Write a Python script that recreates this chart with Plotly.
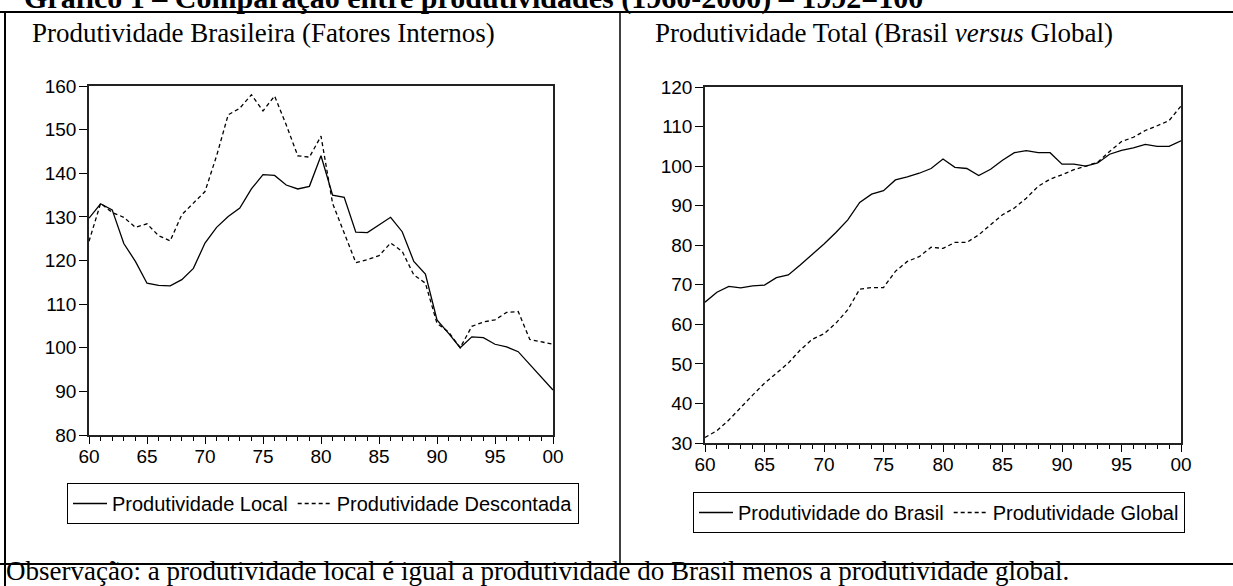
import plotly.graph_objects as go

W, H = 1233, 586

years = list(range(1960, 2001))

# Left panel: Produtividade Brasileira (Fatores Internos)
prod_local = [129.7, 133.0, 131.6, 123.9, 119.8, 114.8, 114.3, 114.2, 115.6, 118.2,
              124.0, 127.6, 130.1, 132.0, 136.4, 139.7, 139.5, 137.3, 136.4, 137.0,
              144.0, 135.0, 134.5, 126.5, 126.4, 128.2, 129.9, 126.6, 119.8, 116.9,
              106.4, 103.3, 100.0, 102.5, 102.3, 100.8, 100.2, 99.1, 96.2, 93.4, 90.3]
prod_descontada = [124.4, 133.1, 131.0, 129.9, 127.6, 128.4, 125.7, 124.5, 130.5, 133.1,
                   135.8, 144.0, 153.4, 154.9, 158.0, 154.3, 157.7, 151.1, 144.0, 143.7,
                   148.5, 133.1, 126.3, 119.5, 120.2, 121.1, 124.0, 122.1, 116.7, 114.8,
                   105.6, 103.6, 100.0, 104.9, 105.9, 106.4, 108.1, 108.3, 101.9, 101.4, 100.8]

# Right panel: Produtividade Total (Brasil versus Global)
prod_brasil = [65.6, 68.1, 69.6, 69.2, 69.7, 69.9, 71.8, 72.5, 75.0, 77.6,
               80.3, 83.2, 86.4, 90.8, 92.9, 93.8, 96.5, 97.3, 98.2, 99.4,
               101.8, 99.7, 99.4, 97.6, 99.2, 101.5, 103.4, 103.9, 103.4, 103.4,
               100.5, 100.5, 100.0, 100.8, 103.0, 104.0, 104.6, 105.5, 105.0, 105.0, 106.4]
prod_global = [31.4, 33.1, 35.8, 39.0, 42.1, 45.1, 47.6, 50.2, 53.5, 56.2,
               57.6, 60.3, 63.7, 68.9, 69.3, 69.3, 73.4, 75.9, 77.1, 79.5,
               79.2, 80.7, 80.7, 82.6, 85.2, 87.7, 89.4, 91.9, 94.9, 96.7,
               97.8, 99.1, 100.0, 101.0, 103.7, 106.2, 107.3, 109.0, 110.2, 111.5, 115.2]

xtick_vals = list(range(1960, 2001, 5))
xtick_text = ["60", "65", "70", "75", "80", "85", "90", "95", "00"]

title_main = "Gráfico 1 – Comparação entre produtividades (1960-2000) – 1992=100"
title_left = "Produtividade Brasileira (Fatores Internos)"
title_right = "Produtividade Total (Brasil <i>versus</i> Global)"
note = "Observação: a produtividade local é igual a produtividade do Brasil menos a produtividade global."


def px(x):
    return x / W


def py(y):
    return 1 - y / H


fig = go.Figure()
lw = 1.3
fig.add_trace(go.Scatter(x=years, y=prod_local, mode="lines", name="Produtividade Local",
                         line=dict(color="black", width=lw), xaxis="x", yaxis="y", legend="legend"))
fig.add_trace(go.Scatter(x=years, y=prod_descontada, mode="lines", name="Produtividade Descontada",
                         line=dict(color="black", width=lw, dash="4px,3px"), xaxis="x", yaxis="y", legend="legend"))
fig.add_trace(go.Scatter(x=years, y=prod_brasil, mode="lines", name="Produtividade do Brasil",
                         line=dict(color="black", width=lw), xaxis="x2", yaxis="y2", legend="legend2"))
fig.add_trace(go.Scatter(x=years, y=prod_global, mode="lines", name="Produtividade Global",
                         line=dict(color="black", width=lw, dash="4px,3px"), xaxis="x2", yaxis="y2", legend="legend2"))

tickfont = dict(family="Liberation Sans, Arial", size=19, color="black")

xcommon = dict(range=[1960, 2000], tickmode="array", tickvals=xtick_vals, ticktext=xtick_text,
               showgrid=False, zeroline=False, showline=True, mirror=True, linecolor="#222",
               linewidth=1.5, ticks="outside", ticklen=7, tickwidth=1.2, tickcolor="black",
               tickfont=tickfont, automargin=False, ticklabelstandoff=-4,
               minor=dict(dtick=1, tick0=1960, ticks="outside", ticklen=4, tickwidth=1, tickcolor="black",
                          showgrid=False))
ycommon = dict(showgrid=False, zeroline=False, showline=True, mirror=True, linecolor="#222",
               linewidth=1.5, ticks="outside", ticklen=8, tickwidth=1.2, tickcolor="black",
               tickfont=tickfont, dtick=10, automargin=False, ticklabelstandoff=-1)

legfont = dict(family="Liberation Sans, Arial", size=20, color="black")

fig.update_layout(
    template="none",
    width=W, height=H,
    margin=dict(l=0, r=0, t=0, b=0, autoexpand=False),
    paper_bgcolor="white", plot_bgcolor="white",
    xaxis=dict(domain=[px(89), px(553)], anchor="y", **xcommon),
    yaxis=dict(domain=[py(435), py(86)], anchor="x", range=[80, 160], **ycommon),
    xaxis2=dict(domain=[px(705), px(1181)], anchor="y2", **xcommon),
    yaxis2=dict(domain=[py(443), py(87)], anchor="x2", range=[30, 120], **ycommon),
    legend=dict(orientation="h", x=px(67), y=py(483), xanchor="left", yanchor="top",
                bordercolor="black", borderwidth=1, bgcolor="white", font=legfont,
                itemwidth=34, tracegroupgap=0),
    legend2=dict(orientation="h", x=px(693), y=py(492), xanchor="left", yanchor="top",
                 bordercolor="black", borderwidth=1, bgcolor="white", font=legfont,
                 itemwidth=34, tracegroupgap=0),
    showlegend=True,
)

serif = "Liberation Serif, Times New Roman"
annotations = [
    dict(text="<b>" + title_main + "</b>", x=px(22), y=py(-2), xanchor="left", yanchor="middle",
         font=dict(family=serif, size=30, color="black")),
    dict(text=title_left, x=px(263), y=py(33), xanchor="center", yanchor="middle",
         font=dict(family=serif, size=27, color="black")),
    dict(text=title_right, x=px(884), y=py(33), xanchor="center", yanchor="middle",
         font=dict(family=serif, size=27, color="black")),
    dict(text=note, x=px(4), y=py(571), xanchor="left", yanchor="middle",
         font=dict(family=serif, size=27, color="black")),
]
for a in annotations:
    a.update(xref="paper", yref="paper", showarrow=False)
fig.update_layout(annotations=annotations)

shapes = [
    dict(type="line", x0=0, x1=1, y0=py(12), y1=py(12), line=dict(color="black", width=2)),
    dict(type="line", x0=0, x1=1, y0=py(564), y1=py(564), line=dict(color="black", width=2)),
    dict(type="line", x0=px(5), x1=px(5), y0=py(12), y1=0, line=dict(color="black", width=2)),
    dict(type="line", x0=px(620), x1=px(620), y0=py(12), y1=py(564), line=dict(color="black", width=1.5)),
]
for s in shapes:
    s.update(xref="paper", yref="paper")
fig.update_layout(shapes=shapes)

fig.write_html("out.html", config={"displayModeBar": False},
               post_script="document.body.style.margin='0px';")
